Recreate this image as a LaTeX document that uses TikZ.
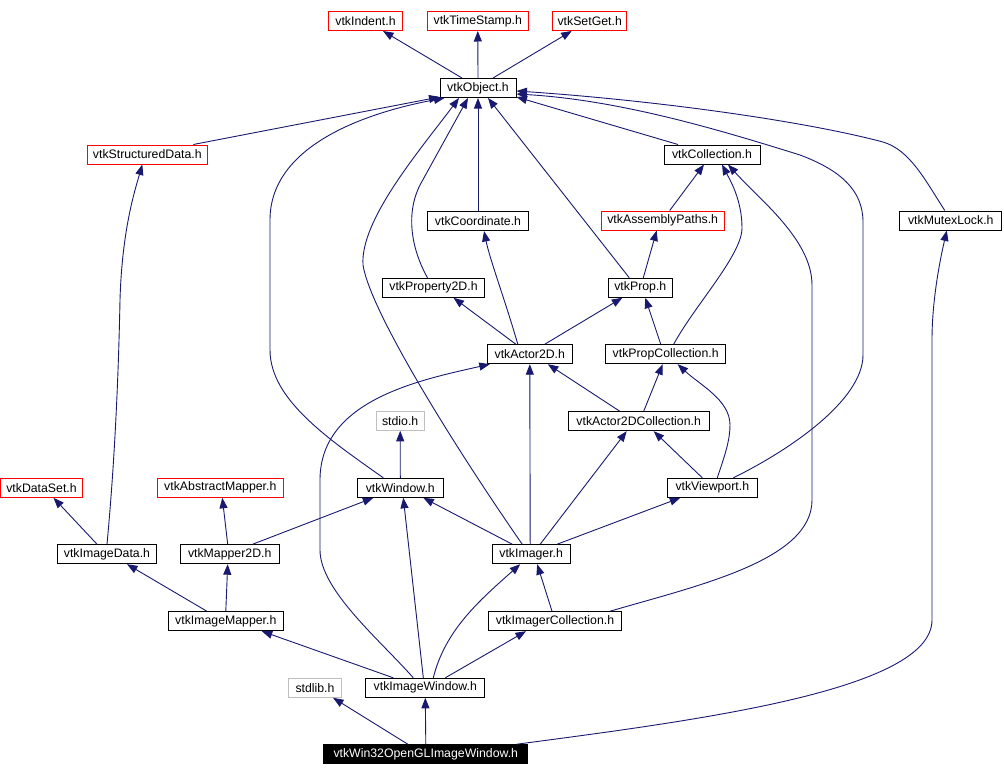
\documentclass[tikz,border=0pt]{standalone}
\usepackage{fontspec}
\setmainfont{Liberation Sans}
\usetikzlibrary{arrows.meta}
\definecolor{edgeblue}{RGB}{25,25,112}
\definecolor{lightgr}{RGB}{191,191,191}
\tikzset{
  hdr/.style={draw=black, line width=1pt, fill=white, minimum height=19pt, inner sep=0pt,
    font=\fontsize{12.3}{14}\selectfont, text=black},
  redhdr/.style={hdr, draw=red},
  grayhdr/.style={hdr, draw=lightgr},
  mainhdr/.style={hdr, fill=black, text=white},
  edge/.style={draw=edgeblue, line width=0.9pt, -{Triangle[length=10.5pt,width=8pt]}},
}
\begin{document}
\begin{tikzpicture}[x=1pt,y=-1pt]
\fill[white] (0,0) rectangle (1004,776);
\useasboundingbox (0,0) rectangle (1004,776);

% row 1
\node[redhdr, minimum width=74pt] (indent) at (365.5,21) {vtkIndent.h};
\node[redhdr, minimum width=101pt] (ts) at (477.8,21) {vtkTimeStamp.h};
\node[redhdr, minimum width=74pt] (setget) at (589.7,21) {vtkSetGet.h};
% row 2
\node[hdr, minimum width=76pt] (obj) at (478,88) {vtkObject.h};
% row 3
\node[redhdr, minimum width=120pt] (sd) at (147.3,154.5) {vtkStructuredData.h};
\node[hdr, minimum width=96pt] (coll) at (712,154.5) {vtkCollection.h};
% row 4
\node[hdr, minimum width=101pt] (coord) at (478,221) {vtkCoordinate.h};
\node[redhdr, minimum width=123pt] (asm) at (662.7,220.5) {vtkAssemblyPaths.h};
\node[hdr, minimum width=102pt] (mutex) at (950.8,220.5) {vtkMutexLock.h};
% row 5
\node[hdr, minimum width=101.6pt] (prop2d) at (433.5,287.8) {vtkProperty2D.h};
\node[hdr, minimum width=64pt] (prop) at (640.3,287.8) {vtkProp.h};
% row 6
\node[hdr, minimum width=85pt] (actor) at (529.8,354.2) {vtkActor2D.h};
\node[hdr, minimum width=120pt] (propcoll) at (665.7,354.2) {vtkPropCollection.h};
% row 7
\node[grayhdr, minimum width=48pt] (stdio) at (400.2,420.8) {stdio.h};
\node[hdr, minimum width=140.7pt] (a2dc) at (638.7,421.2) {vtkActor2DCollection.h};
% row 8
\node[redhdr, minimum width=82pt] (dataset) at (41.5,487.8) {vtkDataSet.h};
\node[redhdr, minimum width=126pt] (absmap) at (220.3,487.8) {vtkAbstractMapper.h};
\node[hdr, minimum width=86pt] (window) at (400.3,487.8) {vtkWindow.h};
\node[hdr, minimum width=90pt] (viewport) at (712.3,487.8) {vtkViewport.h};
% row 9
\node[hdr, minimum width=99.4pt] (imgdata) at (107,554.2) {vtkImageData.h};
\node[hdr, minimum width=99.3pt] (mapper2d) at (229.7,554.2) {vtkMapper2D.h};
\node[hdr, minimum width=77.7pt] (imager) at (531.2,554.2) {vtkImager.h};
% row 10
\node[hdr, minimum width=115pt] (imgmapper) at (225.8,621.2) {vtkImageMapper.h};
\node[hdr, minimum width=133.3pt] (imgcoll) at (555,621.2) {vtkImagerCollection.h};
% row 11
\node[grayhdr, minimum width=53.3pt] (stdlib) at (315,687.8) {stdlib.h};
\node[hdr, minimum width=119.3pt] (imgwin) at (425.3,687.8) {vtkImageWindow.h};
% row 12
\node[mainhdr, minimum width=203.7pt] (win32) at (425.8,754.2) {vtkWin32OpenGLImageWindow.h};

% edges: child -> parent
\draw[edge] ([xshift=-16]obj.north) -- ([xshift=17.5]indent.south);
\draw[edge] (obj.north) -- (ts.south);
\draw[edge] ([xshift=15]obj.north) -- ([xshift=-18]setget.south);

\draw[edge] ([xshift=46]sd.north) -- ([yshift=1]obj.south west);
\draw[edge] ([xshift=-34]coll.north) -- ([yshift=1]obj.south east);
\draw[edge] ([xshift=-6]mutex.north) .. controls (925,180) and (910,150) .. (883,142)
  .. controls (800,120) and (650,100) .. ([yshift=-3]obj.east);
\draw[edge] ([xshift=21]viewport.north) .. controls (790,450) and (863,400) .. (863,355)
  -- (863,222) .. controls (863,190) and (840,170) .. (800,155)
  .. controls (720,130) and (620,100) .. ([yshift=-6]obj.east);
\draw[edge] ([xshift=-17]window.north) .. controls (330,440) and (270,400) .. (270,350)
  -- (270,220) .. controls (270,140) and (380,110) .. ([xshift=5]obj.south west);
\draw[edge] ([xshift=-9]imager.north) .. controls (450,440) and (370,310) .. (363,265)
  .. controls (360,220) and (420,150) .. ([xshift=-19]obj.south);
\draw[edge] ([xshift=-6]prop2d.north) .. controls (412,250) and (405,215) .. (420,185)
  -- ([xshift=-10]obj.south);
\draw[edge] (coord.north) -- (obj.south);
\draw[edge] ([xshift=-11]prop.north) -- ([xshift=10]obj.south);

\draw[edge] ([xshift=7]asm.north) -- ([xshift=-8]coll.south);
\draw[edge] ([xshift=8]propcoll.north) .. controls (695,305) and (742,255) .. (742,228)
  .. controls (742,200) and (730,180) .. ([xshift=10]coll.south);
\draw[edge] ([xshift=55]imgcoll.north) .. controls (700,585) and (812,560) .. (812,500)
  -- (812,285) .. controls (812,240) and (760,200) .. ([xshift=16]coll.south);

\draw[edge] ([xshift=3]prop.north) -- ([xshift=-6]asm.south);
\draw[edge] ([xshift=-14]actor.north) -- ([xshift=20]prop2d.south);
\draw[edge] ([xshift=-12]actor.north) .. controls (505,300) and (490,260) .. ([xshift=6]coord.south);
\draw[edge] ([xshift=15]actor.north) -- ([xshift=-18]prop.south);
\draw[edge] ([xshift=-5]propcoll.north) -- ([xshift=5]prop.south);

\draw[edge] ([xshift=-19]a2dc.north) -- ([xshift=18]actor.south);
\draw[edge] ([xshift=5]a2dc.north) -- ([xshift=-3]propcoll.south);
\draw[edge] ([xshift=-10]viewport.north) -- ([xshift=15]a2dc.south);
\draw[edge] ([xshift=5]viewport.north) .. controls (725,455) and (730,440) .. (730,425)
  .. controls (730,400) and (700,385) .. ([xshift=12]propcoll.south);

\draw[edge] (window.north) -- (stdio.south);
\draw[edge] ([xshift=-1]imager.north) -- (actor.south);
\draw[edge] ([xshift=9]imager.north) -- ([xshift=-12]a2dc.south);
\draw[edge] ([xshift=-19]imager.north) -- ([xshift=23]window.south);
\draw[edge] ([xshift=26]imager.north) -- ([xshift=-32]viewport.south);

\draw[edge] ([xshift=-10]imgdata.north) -- ([xshift=12]dataset.south);
\draw[edge] (imgdata.north) .. controls (113,480) and (118,400) .. (120,300)
  .. controls (122,230) and (135,190) .. ([xshift=-5]sd.south);
\draw[edge] ([xshift=-2]mapper2d.north) -- ([xshift=2]absmap.south);
\draw[edge] ([xshift=23]mapper2d.north) -- ([xshift=-27]window.south);

\draw[edge] ([xshift=-19]imgmapper.north) -- ([xshift=20]imgdata.south);
\draw[edge] (imgmapper.north) -- ([xshift=-2]mapper2d.south);
\draw[edge] ([xshift=-3]imgcoll.north) -- ([xshift=6]imager.south);

\draw[edge] ([xshift=-32]imgwin.north) -- ([xshift=36]imgmapper.south);
\draw[edge] ([xshift=-12]imgwin.north) .. controls (380,640) and (320,590) .. (320,550)
  -- (320,480) .. controls (320,400) and (420,380) .. ([xshift=3]actor.south west);
\draw[edge] ([xshift=-2]imgwin.north) -- ([xshift=3]window.south);
\draw[edge] ([xshift=8]imgwin.north) .. controls (445,630) and (480,600) .. ([xshift=-11]imager.south);
\draw[edge] ([xshift=20]imgwin.north) -- ([xshift=-29]imgcoll.south);

\draw[edge] ([xshift=-18]win32.north) -- ([xshift=18]stdlib.south);
\draw[edge] (win32.north) -- (imgwin.south);
\draw[edge] ([xshift=91]win32.north) .. controls (700,720) and (932,690) .. (932,620)
  -- (932,340) .. controls (932,300) and (940,260) .. ([xshift=-4]mutex.south);
\end{tikzpicture}
\end{document}
